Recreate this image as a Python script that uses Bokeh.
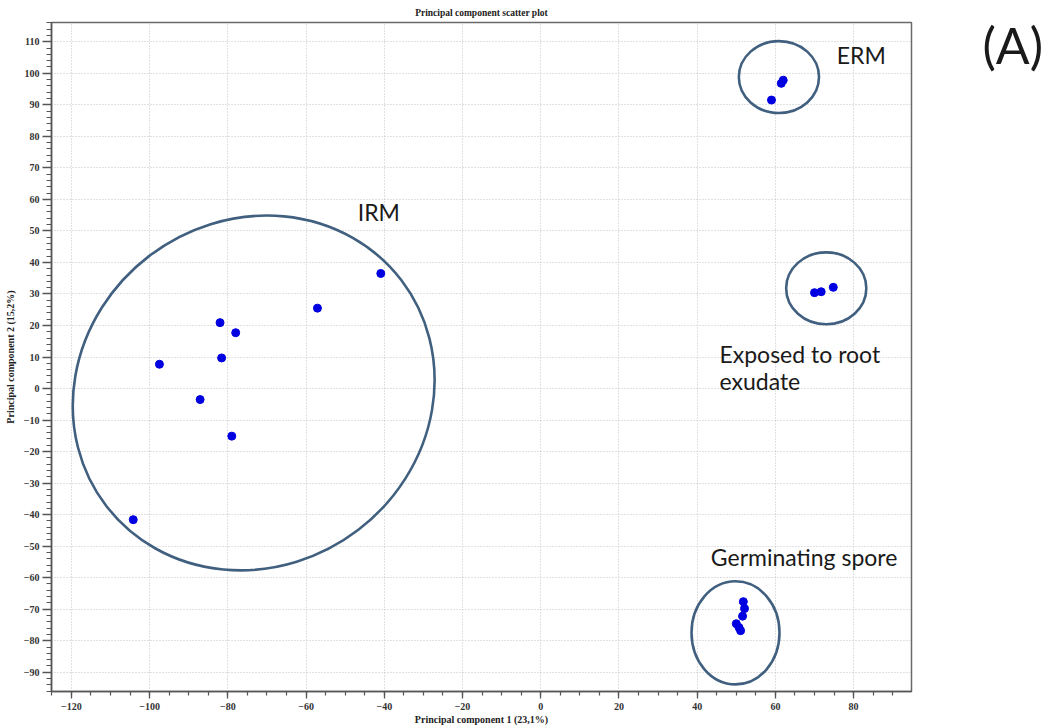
from bokeh.plotting import figure
from bokeh.layouts import row
from bokeh.models import Range1d, FixedTicker, Label, ColumnDataSource
from bokeh.core.properties import value
from bokeh.embed import file_html
from bokeh.resources import INLINE

# ---- data ----
irm_x = [-40.9, -57.1, -82.0, -78.0, -81.6, -97.5, -87.1, -79.0, -104.2]
irm_y = [36.5, 25.5, 20.9, 17.7, 9.7, 7.7, -3.5, -15.1, -41.6]
erm_x = [59.0, 61.5, 62.0]
erm_y = [91.5, 96.8, 97.8]
exud_x = [70.0, 71.7, 74.8]
exud_y = [30.4, 30.7, 32.1]
germ_x = [51.8, 52.1, 51.6, 50.0, 50.7, 51.1]
germ_y = [-67.6, -69.8, -72.2, -74.6, -75.8, -76.8]

# group outlines
ell_group = ["IRM", "ERM", "Exposed to root exudate", "Germinating spore"]
ell_x = [-73.4, 60.9, 73.0, 49.8]
ell_y = [-1.4, 98.8, 31.8, -77.5]
ell_w = [95.0, 20.5, 20.5, 22.5]
ell_h = [109.3, 22.8, 22.8, 32.7]
ell_angle = [0.653, 0.0, 0.0, 0.0]

x_major = [-120, -100, -80, -60, -40, -20, 0, 20, 40, 60, 80]
x_minor = list(range(-125, 95, 5))
y_major = list(range(-90, 111, 10))
y_minor = list(range(-96, 117, 2))

TICK_FONT = "Liberation Serif"
LABEL_FONT = "Lato"

BORDER_L, BORDER_R, BORDER_T, BORDER_B = 51, 20, 21, 30
FRAME_W, FRAME_H = 860, 669

p = figure(
    frame_width=FRAME_W, frame_height=FRAME_H,
    x_range=Range1d(-125.1, 94.8), y_range=Range1d(-96.1, 116.1),
    output_backend="svg", toolbar_location=None,
    min_border_left=BORDER_L, min_border_right=BORDER_R,
    min_border_top=BORDER_T, min_border_bottom=BORDER_B,
    title="Principal component scatter plot",
)
p.background_fill_color = "white"
p.border_fill_color = "white"
p.outline_line_color = "#6a6a6a"
p.outline_line_width = 1.5

p.title.align = "center"
p.title.text_font = TICK_FONT
p.title.text_font_style = "bold"
p.title.text_font_size = "9.5px"
p.title.text_color = "#222222"
p.title.standoff = 10

for ax, major, minor in ((p.xaxis[0], x_major, x_minor), (p.yaxis[0], y_major, y_minor)):
    ax.ticker = FixedTicker(ticks=major, minor_ticks=minor)
    ax.major_label_text_font = TICK_FONT
    ax.major_label_text_font_style = "bold"
    ax.major_label_text_font_size = "10px"
    ax.major_label_text_color = "#333333"
    ax.axis_line_color = "#555555"
    ax.axis_line_width = 1.5
    ax.major_tick_line_color = "#555555"
    ax.minor_tick_line_color = "#555555"
    ax.major_tick_line_width = 1.3
    ax.minor_tick_line_width = 1.2
    ax.major_tick_in = 0
    ax.minor_tick_in = 0
    ax.axis_label_text_font = TICK_FONT
    ax.axis_label_text_font_style = "bold"
    ax.axis_label_text_font_size = "10px"
    ax.axis_label_text_color = "#222222"

p.xaxis.axis_label = "Principal component 1 (23,1%)"
p.yaxis.axis_label = "Principal component 2 (15,2%)"
p.xaxis.major_tick_out = 7
p.xaxis.minor_tick_out = 4
p.yaxis.major_tick_out = 9
p.yaxis.minor_tick_out = 5
p.xaxis.major_label_standoff = 4
p.yaxis.major_label_standoff = 3
p.xaxis.axis_label_standoff = 1
p.yaxis.axis_label_standoff = 5

p.xgrid.ticker = FixedTicker(ticks=x_major)
p.ygrid.ticker = FixedTicker(ticks=y_major)
for g in (p.xgrid[0], p.ygrid[0]):
    g.grid_line_color = "#c2c2c2"
    g.grid_line_dash = "1 2"
    g.grid_line_width = 1

# group ellipses
esrc = ColumnDataSource(dict(x=ell_x, y=ell_y, w=ell_w, h=ell_h, a=ell_angle, g=ell_group))
p.ellipse(x="x", y="y", width="w", height="h", angle="a", source=esrc,
          fill_color=None, line_color="#41607f", line_width=2.6)

# points
pt_color = "#0000e0"
for xs, ys in ((irm_x, irm_y), (erm_x, erm_y), (exud_x, exud_y), (germ_x, germ_y)):
    p.scatter(xs, ys, size=8, color=pt_color, line_color=pt_color)

# group labels
def add_label(x, y, text, size="23px"):
    p.add_layout(Label(x=x, y=y, text=text, text_font=LABEL_FONT, text_font_size=size,
                       text_color="#1a1a1a", text_align="left", text_baseline="alphabetic"))

add_label(-46.8, 56.0, "IRM")
add_label(75.7, 105.8, "ERM")
add_label(45.7, 11.1, "Exposed to root")
add_label(45.7, 2.4, "exudate")
add_label(43.5, -53.3, "Germinating spore")

# panel tag "(A)" in a small side figure sharing the main y scale
SIDE_W = 112
p2 = figure(width=SIDE_W, frame_height=FRAME_H, x_range=Range1d(0, SIDE_W), y_range=p.y_range,
            output_backend="svg", toolbar_location=None, title=None,
            min_border_left=0, min_border_right=0,
            min_border_top=BORDER_T, min_border_bottom=BORDER_B)
p2.axis.visible = False
p2.grid.visible = False
p2.outline_line_color = None
p2.background_fill_color = "white"
p2.border_fill_color = "white"
p2.text(x=[51], y=[109.0], text=["(A)"], text_font=value(LABEL_FONT), text_font_size="50px",
        text_color="#1a1a1a", text_align="left", text_baseline="alphabetic")

layout = row(p, p2)
open("out.html", "w").write(file_html(layout, INLINE))
